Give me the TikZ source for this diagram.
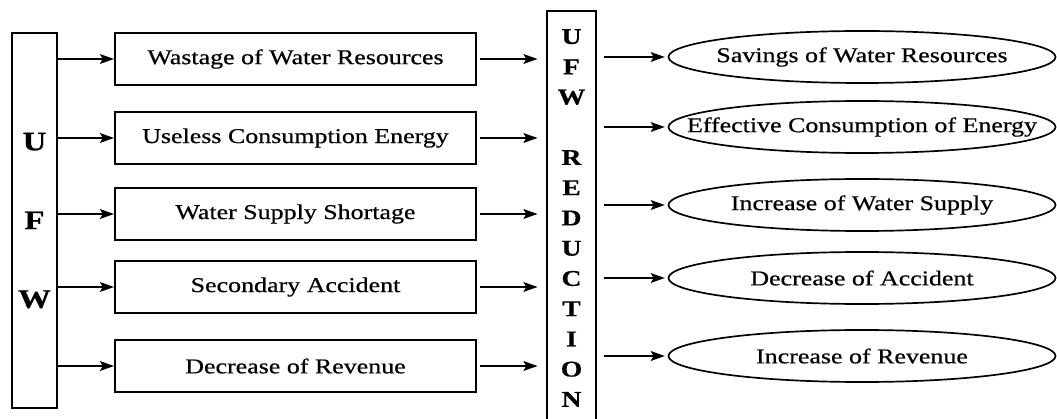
\documentclass[tikz,border=0pt]{standalone}
\usepackage{fontspec}
\setmainfont[FakeStretch=1.23, FakeBold=0.6]{Liberation Serif}
\usepackage{tikz}
\usetikzlibrary{arrows.meta, positioning, shapes.geometric}

\begin{document}
\begin{tikzpicture}[
      x=0.025cm, y=-0.025cm,
      font=\fontsize{15}{18}\selectfont,
      ufwbox/.style={rectangle, draw, line width=1.5pt, minimum width=1.125cm, minimum height=9.375cm,
        align=center, font=\fontsize{19}{56}\selectfont\bfseries},
      redbox/.style={rectangle, draw, line width=1.5pt, minimum width=1.225cm, minimum height=10.35cm,
        align=center, font=\fontsize{16}{21.5}\selectfont\bfseries},
      cause/.style={rectangle, draw, line width=1.4pt, minimum width=9.025cm, minimum height=1.3cm},
      effect/.style={ellipse, draw, line width=1.2pt, minimum width=9.675cm, minimum height=1.3cm, inner sep=0pt},
      arr/.style={-{Stealth[length=10pt, width=7pt, inset=2pt]}, line width=0.8pt}
    ]
      \useasboundingbox (0,0) rectangle (1057,419);
      \node[ufwbox] (ufw) at (34.5,220.5) {U\\F\\W};
      \node[cause] (c1) at (295.5,59) {Wastage of Water Resources};
      \node[cause] (c2) at (295.5,138) {Useless Consumption Energy};
      \node[cause] (c3) at (295.5,214) {Water Supply Shortage};
      \node[cause] (c4) at (295.5,287) {Secondary Accident};
      \node[cause] (c5) at (295.5,366) {Decrease of Revenue};
      \node[redbox] (red) at (571.5,218) {U\\F\\W\\[21.5pt]R\\E\\D\\U\\C\\T\\I\\O\\N};
      \node[effect, label=center:{Savings of Water Resources}] (e1) at (862,57) {};
      \node[effect, label=center:{Effective Consumption of Energy}] (e2) at (862,127) {};
      \node[effect, label=center:{Increase of Water Supply}] (e3) at (862,205) {};
      \node[effect, label=center:{Decrease of Accident}] (e4) at (862,278) {};
      \node[effect, label=center:{Increase of Revenue}] (e5) at (862,356) {};
      \draw[arr] (ufw.east |- c1.west) -- (c1.west);
      \draw[arr] (ufw.east |- c2.west) -- (c2.west);
      \draw[arr] (ufw.east |- c3.west) -- (c3.west);
      \draw[arr] (ufw.east |- c4.west) -- (c4.west);
      \draw[arr] (ufw.east |- c5.west) -- (c5.west);
      \draw[arr, shorten <=2pt, shorten >=6pt] (c1.east) -- (c1.east -| red.west);
      \draw[arr, shorten <=2pt, shorten >=6pt] (c2.east) -- (c2.east -| red.west);
      \draw[arr, shorten <=2pt, shorten >=6pt] (c3.east) -- (c3.east -| red.west);
      \draw[arr, shorten <=2pt, shorten >=6pt] (c4.east) -- (c4.east -| red.west);
      \draw[arr, shorten <=2pt, shorten >=6pt] (c5.east) -- (c5.east -| red.west);
      \draw[arr, shorten <=5pt, shorten >=2pt] (red.east |- e1.west) -- (e1.west);
      \draw[arr, shorten <=5pt, shorten >=2pt] (red.east |- e2.west) -- (e2.west);
      \draw[arr, shorten <=5pt, shorten >=2pt] (red.east |- e3.west) -- (e3.west);
      \draw[arr, shorten <=5pt, shorten >=2pt] (red.east |- e4.west) -- (e4.west);
      \draw[arr, shorten <=5pt, shorten >=2pt] (red.east |- e5.west) -- (e5.west);
    \end{tikzpicture}
\end{document}
